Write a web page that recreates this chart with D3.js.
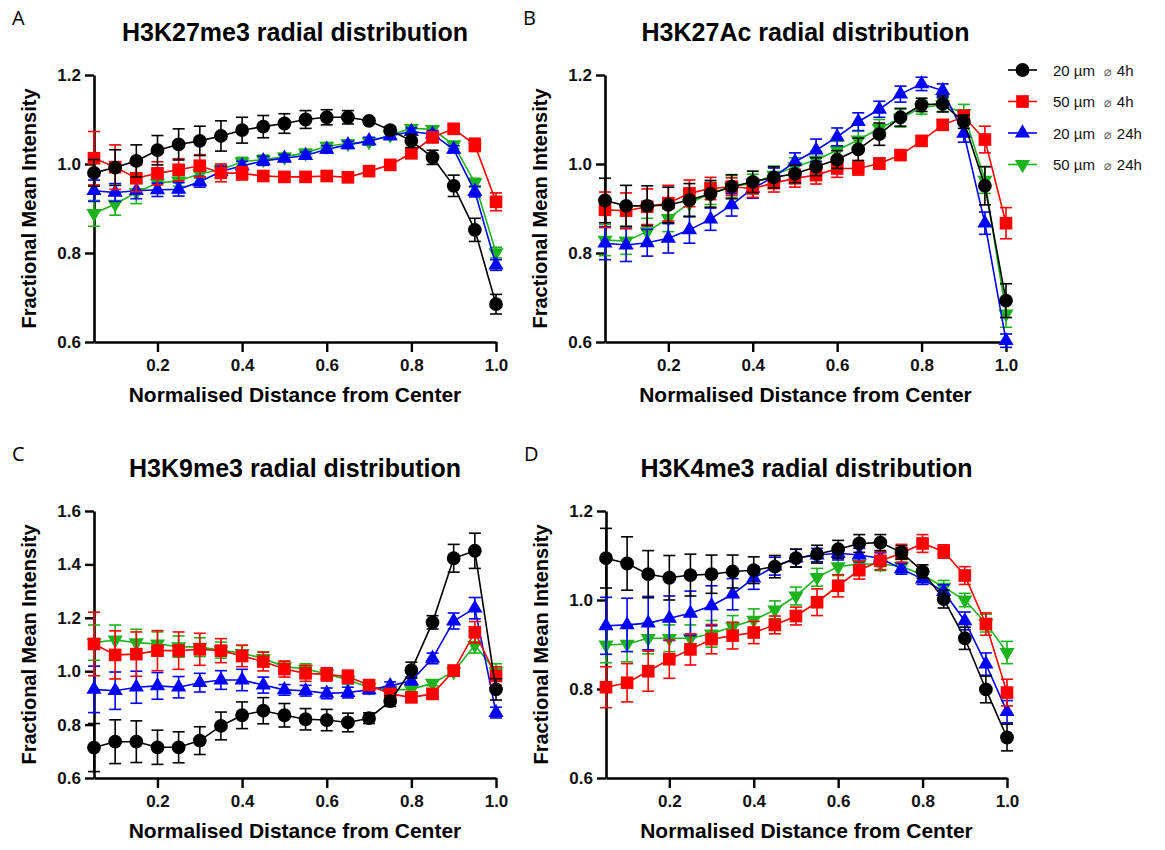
<!DOCTYPE html>
<html>
<head>
<meta charset="utf-8">
<script src="https://cdn.jsdelivr.net/npm/d3@7"></script>
<style>
  body { margin: 0; background: #fff; }
  svg { display: block; font-family: "Liberation Sans", Arial, sans-serif; }
  .panel-letter { font-family: "Open Sans", "Noto Sans", sans-serif; font-size: 20px; }
  .panel-title { font-size: 25px; font-weight: bold; }
  .axis-title { font-size: 21px; font-weight: bold; }
  .axis-title.y-title { font-size: 20px; }
  .tick-label { font-size: 17px; font-weight: bold; }
  .legend-label { font-size: 15px; }
</style>
</head>
<body>
<div id="chart"></div>
<script>
// Radial distance bins (normalised), shared by all four panels
const distances = [0.05, 0.1, 0.15, 0.2, 0.25, 0.3, 0.35, 0.4, 0.45, 0.5,
  0.55, 0.6, 0.65, 0.7, 0.75, 0.8, 0.85, 0.9, 0.95, 1.0];

const seriesNames = ["20 µm", "50 µm", "20 µm", "50 µm"];
const seriesTimes = ["4h", "4h", "24h", "24h"];
const seriesColors = ["#000000", "#ff0000", "#0000ff", "#1db31d"];
const seriesShapes = ["circle", "square", "triangle", "triangleDown"];

// --- A: H3K27me3 ---
const k27me3_20_4h = [0.980, 0.992, 1.007, 1.031, 1.044, 1.052, 1.063, 1.076, 1.084, 1.091, 1.100, 1.105, 1.105, 1.097, 1.076, 1.052, 1.015, 0.951, 0.852, 0.685];
const k27me3_20_4h_sem = [0.03, 0.04, 0.036, 0.033, 0.035, 0.033, 0.034, 0.029, 0.025, 0.022, 0.02, 0.017, 0.015, 0.006, 0.008, 0.015, 0.016, 0.024, 0.026, 0.022];
const k27me3_50_4h = [1.013, 0.993, 0.968, 0.979, 0.987, 0.996, 0.980, 0.979, 0.973, 0.971, 0.971, 0.973, 0.970, 0.984, 0.998, 1.024, 1.060, 1.079, 1.043, 0.915];
const k27me3_50_4h_sem = [0.06, 0.05, 0.03, 0.026, 0.025, 0.025, 0.02, 0.015, 0.01, 0.01, 0.008, 0.008, 0.008, 0.008, 0.01, 0.01, 0.012, 0.01, 0.015, 0.02];
const k27me3_20_24h = [0.940, 0.936, 0.940, 0.942, 0.943, 0.960, 0.983, 0.996, 1.007, 1.013, 1.019, 1.033, 1.043, 1.052, 1.063, 1.073, 1.067, 1.033, 0.938, 0.773];
const k27me3_20_24h_sem = [0.024, 0.02, 0.018, 0.015, 0.015, 0.012, 0.012, 0.01, 0.01, 0.008, 0.008, 0.008, 0.008, 0.008, 0.008, 0.008, 0.008, 0.008, 0.012, 0.012];
const k27me3_50_24h = [0.889, 0.910, 0.936, 0.957, 0.962, 0.978, 0.987, 1.005, 1.010, 1.016, 1.025, 1.040, 1.046, 1.050, 1.065, 1.080, 1.078, 1.043, 0.958, 0.801];
const k27me3_50_24h_sem = [0.029, 0.025, 0.025, 0.015, 0.012, 0.01, 0.01, 0.01, 0.01, 0.008, 0.008, 0.008, 0.008, 0.008, 0.008, 0.008, 0.008, 0.008, 0.01, 0.012];

// --- B: H3K27Ac ---
const k27ac_20_4h = [0.918, 0.906, 0.906, 0.908, 0.919, 0.933, 0.949, 0.960, 0.970, 0.978, 0.994, 1.010, 1.033, 1.067, 1.105, 1.133, 1.135, 1.095, 0.951, 0.693];
const k27ac_20_4h_sem = [0.05, 0.046, 0.045, 0.04, 0.037, 0.03, 0.027, 0.024, 0.024, 0.02, 0.02, 0.02, 0.025, 0.025, 0.02, 0.015, 0.018, 0.015, 0.043, 0.038];
const k27ac_50_4h = [0.897, 0.895, 0.904, 0.912, 0.934, 0.945, 0.949, 0.945, 0.957, 0.968, 0.975, 0.990, 0.990, 1.001, 1.020, 1.052, 1.088, 1.106, 1.055, 0.867];
const k27ac_50_4h_sem = [0.04, 0.04, 0.04, 0.04, 0.03, 0.025, 0.02, 0.02, 0.02, 0.02, 0.02, 0.02, 0.015, 0.012, 0.01, 0.01, 0.01, 0.015, 0.03, 0.035];
const k27ac_20_24h = [0.822, 0.818, 0.823, 0.833, 0.852, 0.876, 0.908, 0.945, 0.971, 1.005, 1.031, 1.061, 1.095, 1.123, 1.157, 1.180, 1.165, 1.069, 0.867, 0.603];
const k27ac_20_24h_sem = [0.037, 0.037, 0.03, 0.033, 0.03, 0.025, 0.025, 0.022, 0.02, 0.02, 0.025, 0.02, 0.02, 0.018, 0.018, 0.015, 0.015, 0.02, 0.025, 0.015];
const k27ac_50_24h = [0.829, 0.827, 0.848, 0.878, 0.912, 0.934, 0.949, 0.957, 0.975, 0.994, 1.009, 1.031, 1.054, 1.080, 1.103, 1.127, 1.133, 1.114, 0.964, 0.663];
const k27ac_50_24h_sem = [0.035, 0.03, 0.03, 0.03, 0.03, 0.025, 0.025, 0.02, 0.02, 0.02, 0.02, 0.02, 0.02, 0.02, 0.02, 0.015, 0.015, 0.02, 0.03, 0.03];

// --- C: H3K9me3 ---
const k9me3_20_4h = [0.714, 0.736, 0.736, 0.715, 0.715, 0.740, 0.795, 0.835, 0.852, 0.835, 0.820, 0.817, 0.808, 0.824, 0.888, 1.004, 1.183, 1.423, 1.451, 0.932];
const k9me3_20_4h_sem = [0.09, 0.082, 0.078, 0.064, 0.058, 0.052, 0.052, 0.05, 0.049, 0.044, 0.04, 0.04, 0.035, 0.02, 0.02, 0.03, 0.025, 0.052, 0.066, 0.04];
const k9me3_50_4h = [1.102, 1.061, 1.064, 1.077, 1.077, 1.082, 1.077, 1.057, 1.036, 1.008, 0.992, 0.988, 0.979, 0.948, 0.915, 0.902, 0.915, 1.002, 1.146, 0.982];
const k9me3_50_4h_sem = [0.119, 0.09, 0.083, 0.075, 0.07, 0.06, 0.045, 0.04, 0.035, 0.03, 0.03, 0.025, 0.025, 0.015, 0.015, 0.015, 0.015, 0.02, 0.04, 0.035];
const k9me3_20_24h = [0.932, 0.927, 0.940, 0.945, 0.940, 0.957, 0.967, 0.967, 0.948, 0.930, 0.927, 0.917, 0.920, 0.930, 0.945, 0.964, 1.048, 1.188, 1.236, 0.845];
const k9me3_20_24h_sem = [0.087, 0.07, 0.06, 0.05, 0.04, 0.035, 0.035, 0.04, 0.03, 0.02, 0.02, 0.02, 0.02, 0.015, 0.015, 0.015, 0.02, 0.03, 0.04, 0.02];
const k9me3_50_24h = [1.107, 1.117, 1.107, 1.102, 1.092, 1.090, 1.079, 1.067, 1.048, 1.017, 1.008, 0.990, 0.967, 0.940, 0.930, 0.932, 0.955, 0.998, 1.098, 0.998];
const k9me3_50_24h_sem = [0.066, 0.056, 0.05, 0.045, 0.04, 0.035, 0.03, 0.03, 0.025, 0.02, 0.02, 0.02, 0.015, 0.015, 0.01, 0.01, 0.01, 0.015, 0.03, 0.03];

// --- D: H3K4me3 ---
const k4me3_20_4h = [1.094, 1.082, 1.058, 1.050, 1.056, 1.058, 1.064, 1.067, 1.075, 1.094, 1.103, 1.114, 1.127, 1.129, 1.107, 1.064, 1.002, 0.914, 0.799, 0.691];
const k4me3_20_4h_sem = [0.067, 0.06, 0.053, 0.05, 0.047, 0.043, 0.037, 0.03, 0.025, 0.02, 0.02, 0.02, 0.02, 0.018, 0.015, 0.015, 0.02, 0.025, 0.03, 0.03];
const k4me3_50_4h = [0.804, 0.814, 0.840, 0.867, 0.889, 0.912, 0.920, 0.927, 0.944, 0.964, 0.995, 1.032, 1.067, 1.088, 1.105, 1.127, 1.109, 1.055, 0.946, 0.792];
const k4me3_50_4h_sem = [0.046, 0.043, 0.045, 0.043, 0.035, 0.033, 0.03, 0.025, 0.02, 0.02, 0.03, 0.025, 0.02, 0.02, 0.02, 0.02, 0.015, 0.02, 0.025, 0.03];
const k4me3_20_24h = [0.942, 0.944, 0.948, 0.959, 0.970, 0.987, 1.013, 1.049, 1.076, 1.094, 1.101, 1.105, 1.101, 1.094, 1.070, 1.047, 1.019, 0.953, 0.856, 0.749];
const k4me3_20_24h_sem = [0.064, 0.06, 0.06, 0.05, 0.05, 0.045, 0.035, 0.025, 0.02, 0.02, 0.015, 0.015, 0.015, 0.012, 0.012, 0.012, 0.015, 0.02, 0.025, 0.025];
const k4me3_50_24h = [0.899, 0.901, 0.914, 0.914, 0.914, 0.924, 0.940, 0.955, 0.978, 1.009, 1.051, 1.075, 1.081, 1.081, 1.076, 1.056, 1.029, 1.000, 0.948, 0.882];
const k4me3_50_24h_sem = [0.04, 0.04, 0.035, 0.03, 0.03, 0.03, 0.025, 0.025, 0.02, 0.02, 0.02, 0.02, 0.015, 0.015, 0.015, 0.015, 0.015, 0.015, 0.02, 0.025];

const yTicksShort = [0.6, 0.8, 1.0, 1.2];
const yTicksTall = [0.6, 0.8, 1.0, 1.2, 1.4, 1.6];
const xTicks = [0.2, 0.4, 0.6, 0.8, 1.0];

const panels = [
  { letter: "A", title: "H3K27me3 radial distribution", left: 94, top: 75, right: 496, bottom: 342,
    yDomain: [0.6, 1.2], yTicks: yTicksShort,
    means: [k27me3_20_4h, k27me3_50_4h, k27me3_20_24h, k27me3_50_24h],
    sems: [k27me3_20_4h_sem, k27me3_50_4h_sem, k27me3_20_24h_sem, k27me3_50_24h_sem] },
  { letter: "B", title: "H3K27Ac radial distribution", left: 605, top: 75, right: 1006, bottom: 342,
    yDomain: [0.6, 1.2], yTicks: yTicksShort,
    means: [k27ac_20_4h, k27ac_50_4h, k27ac_20_24h, k27ac_50_24h],
    sems: [k27ac_20_4h_sem, k27ac_50_4h_sem, k27ac_20_24h_sem, k27ac_50_24h_sem] },
  { letter: "C", title: "H3K9me3 radial distribution", left: 94, top: 511, right: 496, bottom: 778,
    yDomain: [0.6, 1.6], yTicks: yTicksTall,
    means: [k9me3_20_4h, k9me3_50_4h, k9me3_20_24h, k9me3_50_24h],
    sems: [k9me3_20_4h_sem, k9me3_50_4h_sem, k9me3_20_24h_sem, k9me3_50_24h_sem] },
  { letter: "D", title: "H3K4me3 radial distribution", left: 606, top: 511, right: 1007, bottom: 778,
    yDomain: [0.6, 1.2], yTicks: yTicksShort,
    means: [k4me3_20_4h, k4me3_50_4h, k4me3_20_24h, k4me3_50_24h],
    sems: [k4me3_20_4h_sem, k4me3_50_4h_sem, k4me3_20_24h_sem, k4me3_50_24h_sem] },
];

const width = 1165;
const height = 850;

const svg = d3.select("#chart").append("svg")
  .attr("width", width)
  .attr("height", height)
  .attr("viewBox", `0 0 ${width} ${height}`);

// d3 has no downward triangle, so flip the regular one
function markerPath(shape) {
  if (shape === "circle") return d3.symbol(d3.symbolCircle, 150)();
  if (shape === "square") return d3.symbol(d3.symbolSquare, 160)();
  return d3.symbol(d3.symbolTriangle, 100)();
}

function drawMarker(g, shape, color) {
  const p = g.append("path").attr("d", markerPath(shape)).attr("fill", color);
  if (shape === "triangleDown") p.attr("transform", "rotate(180)");
  return p;
}

function drawPanel(cfg) {
  const x = d3.scaleLinear().domain([0.05, 1.0]).range([cfg.left, cfg.right]);
  const y = d3.scaleLinear().domain(cfg.yDomain).range([cfg.bottom, cfg.top]);
  const g = svg.append("g").attr("class", "panel");

  g.append("text")
    .attr("class", "panel-letter")
    .attr("x", cfg.left - 82)
    .attr("y", cfg.top - 50)
    .text(cfg.letter);

  g.append("text")
    .attr("class", "panel-title")
    .attr("text-anchor", "middle")
    .attr("x", (cfg.left + cfg.right) / 2)
    .attr("y", cfg.top - 34)
    .text(cfg.title);

  // Axes: GraphPad style, thick black, outward ticks
  const xAxis = g.append("g")
    .attr("transform", `translate(0,${cfg.bottom})`)
    .call(d3.axisBottom(x).tickValues(xTicks).tickSize(10).tickSizeOuter(0).tickPadding(7).tickFormat(d3.format(".1f")));
  const yAxis = g.append("g")
    .attr("transform", `translate(${cfg.left},0)`)
    .call(d3.axisLeft(y).tickValues(cfg.yTicks).tickSize(9).tickSizeOuter(0).tickPadding(4).tickFormat(d3.format(".1f")));

  [xAxis, yAxis].forEach((ax) => {
    ax.select(".domain").attr("stroke", "#000").attr("stroke-width", 2.6);
    ax.selectAll(".tick line").attr("stroke", "#000").attr("stroke-width", 2.4);
    ax.selectAll(".tick text")
      .attr("class", "tick-label")
      .attr("fill", "#111")
      .style("font-family", "'Liberation Sans', Arial, sans-serif");
  });

  g.append("text")
    .attr("class", "axis-title")
    .attr("text-anchor", "middle")
    .attr("x", (cfg.left + cfg.right) / 2)
    .attr("y", cfg.bottom + 60)
    .text("Normalised Distance from Center");

  g.append("text")
    .attr("class", "axis-title y-title")
    .attr("text-anchor", "middle")
    .attr("transform", `translate(${cfg.left - 58},${(cfg.top + cfg.bottom) / 2}) rotate(-90)`)
    .text("Fractional Mean Intensity");

  // Draw green first so the black series ends up on top
  const order = [3, 2, 1, 0];
  const line = d3.line().x((d) => x(d[0])).y((d) => y(d[1]));

  order.forEach((s) => {
    const color = seriesColors[s];
    const rows = distances.map((d, i) => [d, cfg.means[s][i], cfg.sems[s][i]]);
    const sg = g.append("g").attr("class", "series");

    // error bars with caps
    const bars = sg.selectAll("g.err").data(rows).enter().append("g").attr("class", "err");
    bars.append("line")
      .attr("x1", (d) => x(d[0])).attr("x2", (d) => x(d[0]))
      .attr("y1", (d) => y(d[1] - d[2])).attr("y2", (d) => y(d[1] + d[2]))
      .attr("stroke", color).attr("stroke-width", 1.6);
    [-1, 1].forEach((sign) => {
      bars.append("line")
        .attr("x1", (d) => x(d[0]) - 6).attr("x2", (d) => x(d[0]) + 6)
        .attr("y1", (d) => y(d[1] + sign * d[2])).attr("y2", (d) => y(d[1] + sign * d[2]))
        .attr("stroke", color).attr("stroke-width", 1.6);
    });

    sg.append("path")
      .datum(rows)
      .attr("d", line)
      .attr("fill", "none")
      .attr("stroke", color)
      .attr("stroke-width", 1.6);

    sg.selectAll("g.pt").data(rows).enter().append("g")
      .attr("class", "pt")
      .attr("transform", (d) => `translate(${x(d[0])},${y(d[1])})`)
      .each(function () { drawMarker(d3.select(this), seriesShapes[s], color); });
  });
}

panels.forEach(drawPanel);

// Legend (top right, next to panel B)
const legend = svg.append("g").attr("transform", "translate(1008,70)");
seriesColors.forEach((color, i) => {
  const row = legend.append("g").attr("transform", `translate(0,${i * 31.5})`);
  row.append("line").attr("x1", 0).attr("x2", 29).attr("stroke", color).attr("stroke-width", 1.6);
  drawMarker(row.append("g").attr("transform", "translate(14.5,0)"), seriesShapes[i], color);
  const t = row.append("text").attr("class", "legend-label").attr("x", 45).attr("y", 5.5).attr("fill", "#111");
  t.append("tspan").text(seriesNames[i]);
  t.append("tspan").attr("dx", 9).attr("fill", "#666").style("font-family", "'DejaVu Sans', sans-serif").attr("font-size", 13).text("⌀");
  t.append("tspan").attr("dx", 5).text(seriesTimes[i]);
});
</script>
</body>
</html>
